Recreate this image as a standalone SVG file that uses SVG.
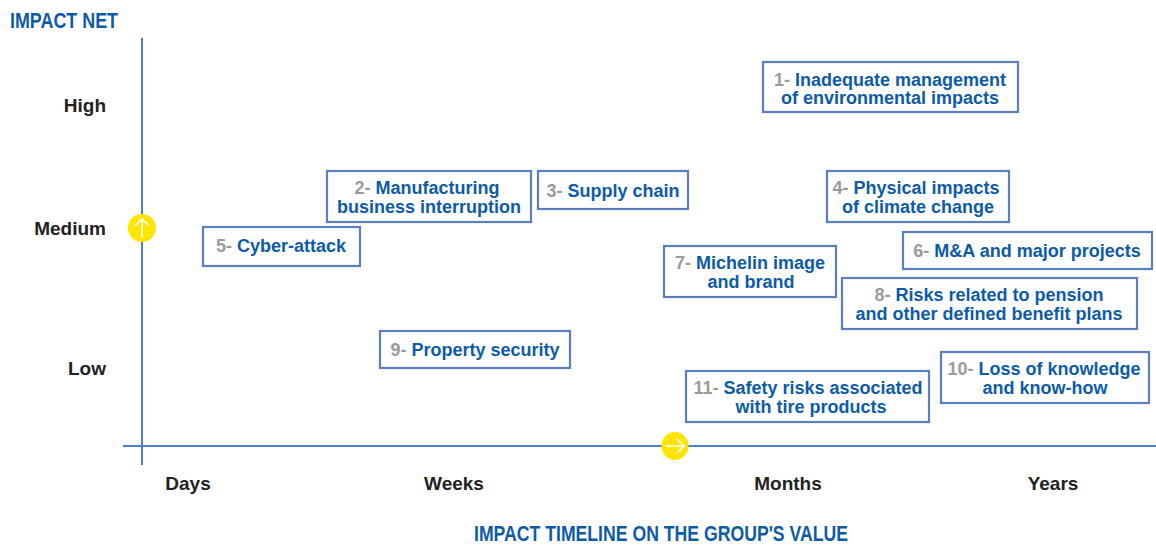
<svg xmlns="http://www.w3.org/2000/svg" width="1156" height="546" viewBox="0 0 1156 546">
<style>
.box{fill:#fff;stroke:#5b7dc2;stroke-width:2.2}
.t{font-family:"Liberation Sans",Arial,sans-serif;font-weight:bold;font-size:18px;fill:#0d5ba8;text-anchor:middle}
.n{fill:#9b9b9b}
.ax{stroke:#4a84c6;stroke-width:2;fill:none}
.lbl{font-family:"Liberation Sans",Arial,sans-serif;font-weight:bold;font-size:19px;fill:#222}
.ttl{font-family:"Liberation Sans",Arial,sans-serif;font-weight:bold;font-size:21.5px;fill:#0d5ba8}
.yc{fill:#ffe500}
.wa{stroke:#fff;stroke-width:1.6;fill:none;stroke-linecap:round;stroke-linejoin:round}
</style>
<rect width="1156" height="546" fill="#fff"/>
<g id="axes">
<line class="ax" x1="142" y1="38" x2="142" y2="465"/>
<line class="ax" x1="123" y1="446" x2="1156" y2="446"/>
<g id="up-marker"><circle class="yc" cx="142" cy="228" r="14"/><path class="wa" d="M142 237V219M135.5 225.5L142 219L148.5 225.5"/></g>
<g id="right-marker"><ellipse class="yc" cx="675" cy="446" rx="13.5" ry="14"/><path class="wa" d="M666 446H684M677.5 439.5L684 446L677.5 452.5"/></g>
</g>
<g id="labels">
<text class="ttl" x="10" y="28" textLength="108" lengthAdjust="spacingAndGlyphs">IMPACT NET</text>
<text class="lbl" x="106" y="112" text-anchor="end">High</text>
<text class="lbl" x="106" y="235" text-anchor="end">Medium</text>
<text class="lbl" x="106" y="375" text-anchor="end">Low</text>
<text class="lbl" x="188" y="490" text-anchor="middle">Days</text>
<text class="lbl" x="454" y="490" text-anchor="middle">Weeks</text>
<text class="lbl" x="788" y="490" text-anchor="middle">Months</text>
<text class="lbl" x="1053" y="490" text-anchor="middle">Years</text>
<text class="ttl" x="474" y="541" textLength="374" lengthAdjust="spacingAndGlyphs">IMPACT TIMELINE ON THE GROUP'S VALUE</text>
</g>
<g id="risk1"><rect class="box" x="763" y="62" width="255" height="50"/>
<text class="t" x="890" y="86"><tspan class="n">1-</tspan> Inadequate management</text>
<text class="t" x="890" y="104">of environmental impacts</text></g>
<g id="risk2"><rect class="box" x="327" y="171" width="204" height="51"/>
<text class="t" x="427" y="194"><tspan class="n">2-</tspan> Manufacturing</text>
<text class="t" x="429" y="213">business interruption</text></g>
<g id="risk3"><rect class="box" x="538" y="171" width="150" height="38"/>
<text class="t" x="613" y="197"><tspan class="n">3-</tspan> Supply chain</text></g>
<g id="risk4"><rect class="box" x="827" y="171" width="182" height="51"/>
<text class="t" x="916" y="194"><tspan class="n">4-</tspan> Physical impacts</text>
<text class="t" x="918" y="213">of climate change</text></g>
<g id="risk5"><rect class="box" x="203" y="227" width="157" height="39"/>
<text class="t" x="281" y="252"><tspan class="n">5-</tspan> Cyber-attack</text></g>
<g id="risk6"><rect class="box" x="903" y="232" width="249" height="37"/>
<text class="t" x="1027" y="257"><tspan class="n">6-</tspan> M&amp;A and major projects</text></g>
<g id="risk7"><rect class="box" x="664" y="246" width="172" height="51"/>
<text class="t" x="750" y="269"><tspan class="n">7-</tspan> Michelin image</text>
<text class="t" x="751" y="288">and brand</text></g>
<g id="risk8"><rect class="box" x="842" y="278" width="295" height="51"/>
<text class="t" x="989" y="301"><tspan class="n">8-</tspan> Risks related to pension</text>
<text class="t" x="989" y="320">and other defined benefit plans</text></g>
<g id="risk9"><rect class="box" x="380" y="331" width="190" height="37"/>
<text class="t" x="475" y="356"><tspan class="n">9-</tspan> Property security</text></g>
<g id="risk10"><rect class="box" x="941" y="352" width="208" height="51"/>
<text class="t" x="1044" y="375"><tspan class="n">10-</tspan> Loss of knowledge</text>
<text class="t" x="1045" y="394">and know-how</text></g>
<g id="risk11"><rect class="box" x="686" y="371" width="243" height="51"/>
<text class="t" x="808" y="394"><tspan class="n">11-</tspan> Safety risks associated</text>
<text class="t" x="811" y="413">with tire products</text></g>
</svg>
